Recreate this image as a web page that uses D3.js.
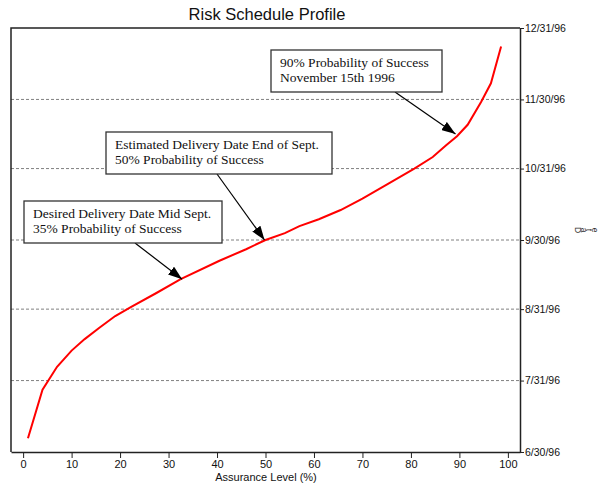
<!DOCTYPE html>
<html>
<head>
<meta charset="utf-8">
<script src="https://cdn.jsdelivr.net/npm/d3@7"></script>
<style>
  html, body { margin: 0; padding: 0; background: #fff; }
  svg { display: block; }
</style>
</head>
<body>
<svg id="chart" width="608" height="488"></svg>
<script>
// Assurance level (%) and the corresponding completion date on the curve
const assurance = [1, 4, 7, 10, 12.7, 15.8, 19, 22.3, 27.5, 32.5, 40.5, 46, 50, 54, 57, 61, 65.5, 70, 75, 80.7, 84.5, 87.2, 89.5, 91.7, 94.5, 96.5, 98.6];
const completion = ["1996-07-06", "1996-07-27", "1996-08-06", "1996-08-13", "1996-08-18", "1996-08-23", "1996-08-28",
  "1996-09-01", "1996-09-07", "1996-09-13", "1996-09-21", "1996-09-26", "1996-09-30", "1996-10-03", "1996-10-06",
  "1996-10-09", "1996-10-13", "1996-10-18", "1996-10-24", "1996-10-31", "1996-11-05", "1996-11-10", "1996-11-14",
  "1996-11-19", "1996-11-29", "1996-12-07", "1996-12-23"];

const xTicks = [0, 10, 20, 30, 40, 50, 60, 70, 80, 90, 100];
const dateTicks = ["1996-06-30", "1996-07-31", "1996-08-31", "1996-09-30", "1996-10-31", "1996-11-30", "1996-12-31"];

// Callouts: text lines and the point on the curve they point to
const calloutLines = [
  ["90% Probability of Success", "November 15th 1996"],
  ["Estimated Delivery Date End of Sept.", "50% Probability of Success"],
  ["Desired Delivery Date Mid Sept.", "35% Probability of Success"]
];
const calloutTargetPct = [89.2, 49.8, 32.8];
const calloutTargetDate = ["1996-11-15", "1996-09-30", "1996-09-13"];

const parse = d3.utcParse("%Y-%m-%d");
const fmt = d3.utcFormat("%-m/%-d/%y");

const svg = d3.select("#chart");
const plotLeft = 11, plotRight = 520, plotTop = 28, plotBottom = 452;

const x = d3.scaleLinear().domain([-2.5, 102.5]).range([plotLeft, plotRight]);
const y = d3.scaleUtc().domain([parse("1996-06-30"), parse("1996-12-31")]).range([plotBottom, plotTop]);

// Title
svg.append("text")
  .attr("x", 267).attr("y", 20)
  .attr("text-anchor", "middle")
  .attr("font-family", "Liberation Sans, Arial, sans-serif")
  .attr("font-size", 16.5)
  .attr("fill", "#111")
  .text("Risk Schedule Profile");

// Dashed month gridlines
svg.append("g")
  .selectAll("line")
  .data(dateTicks.slice(1, -1))
  .join("line")
  .attr("x1", plotLeft).attr("x2", plotRight)
  .attr("y1", d => y(parse(d))).attr("y2", d => y(parse(d)))
  .attr("stroke", "#808080")
  .attr("stroke-width", 1)
  .attr("stroke-dasharray", "3,2");

// Frame: left and top edges
svg.append("path")
  .attr("d", `M${plotLeft},${plotBottom}V${plotTop}H${plotRight}`)
  .attr("fill", "none")
  .attr("stroke", "#222")
  .attr("stroke-width", 1.5);

// Bottom axis
const xAxis = svg.append("g")
  .attr("transform", `translate(0,${plotBottom})`)
  .call(d3.axisBottom(x).tickValues(xTicks).tickSize(6).tickPadding(2).tickSizeOuter(0));
xAxis.select(".domain").attr("stroke", "#222").attr("stroke-width", 1.5);
xAxis.selectAll(".tick line").attr("stroke", "#222");
xAxis.selectAll(".tick text")
  .attr("font-family", "Liberation Sans, Arial, sans-serif")
  .attr("font-size", 11)
  .attr("fill", "#111");

svg.append("text")
  .attr("x", 266).attr("y", 481)
  .attr("text-anchor", "middle")
  .attr("font-family", "Liberation Sans, Arial, sans-serif")
  .attr("font-size", 11)
  .attr("fill", "#111")
  .text("Assurance Level (%)");

// Right date axis
const yAxis = svg.append("g")
  .attr("transform", `translate(${plotRight},0)`)
  .call(d3.axisRight(y).tickValues(dateTicks.map(parse)).tickFormat(fmt).tickSize(4).tickPadding(1).tickSizeOuter(0));
yAxis.select(".domain").attr("stroke", "#222").attr("stroke-width", 1.5);
yAxis.selectAll(".tick line").attr("stroke", "#222");
yAxis.selectAll(".tick text")
  .attr("font-family", "Liberation Sans, Arial, sans-serif")
  .attr("font-size", 10.5)
  .attr("fill", "#111");

// Axis title drawn as individually turned glyphs
const dateTitle = svg.append("g")
  .attr("font-family", "Liberation Sans, Arial, sans-serif")
  .attr("font-size", 8.5)
  .attr("fill", "#333");
"Date".split("").forEach((ch, i) => {
  dateTitle.append("text")
    .attr("transform", `translate(${578 + i * 5.5},230) rotate(90)`)
    .attr("text-anchor", "middle")
    .attr("dy", "0.35em")
    .text(ch);
});

// Risk curve
const pts = assurance.map((a, i) => [a, parse(completion[i])]);
svg.append("path")
  .datum(pts)
  .attr("d", d3.line().x(d => x(d[0])).y(d => y(d[1])))
  .attr("fill", "none")
  .attr("stroke", "#ff0000")
  .attr("stroke-width", 2);

// Callouts
const defs = svg.append("defs");
defs.append("marker")
  .attr("id", "head")
  .attr("markerUnits", "userSpaceOnUse")
  .attr("viewBox", "0 0 14 10")
  .attr("refX", 14).attr("refY", 5)
  .attr("markerWidth", 14).attr("markerHeight", 10)
  .attr("orient", "auto")
  .append("path")
  .attr("d", "M0,0L14,5L0,10Z")
  .attr("fill", "#000");

const boxes = [
  { x: 271, y: 50, w: 171, h: 42, ax: 395 },
  { x: 106, y: 132, w: 226, h: 42, ax: 217 },
  { x: 24, y: 201, w: 198, h: 42, ax: 135 }
];

boxes.forEach((b, i) => {
  svg.append("line")
    .attr("x1", b.ax).attr("y1", b.y + b.h)
    .attr("x2", x(calloutTargetPct[i])).attr("y2", y(parse(calloutTargetDate[i])))
    .attr("stroke", "#000")
    .attr("stroke-width", 1.2)
    .attr("marker-end", "url(#head)");
  svg.append("rect")
    .attr("x", b.x).attr("y", b.y)
    .attr("width", b.w).attr("height", b.h)
    .attr("fill", "#fff")
    .attr("stroke", "#333")
    .attr("stroke-width", 1.3);
  calloutLines[i].forEach((t, j) => {
    svg.append("text")
      .attr("x", b.x + 9).attr("y", b.y + 17 + j * 15)
      .attr("font-family", "Liberation Serif, Times New Roman, serif")
      .attr("font-size", 13.5)
      .attr("fill", "#111")
      .text(t);
  });
});
</script>
</body>
</html>
